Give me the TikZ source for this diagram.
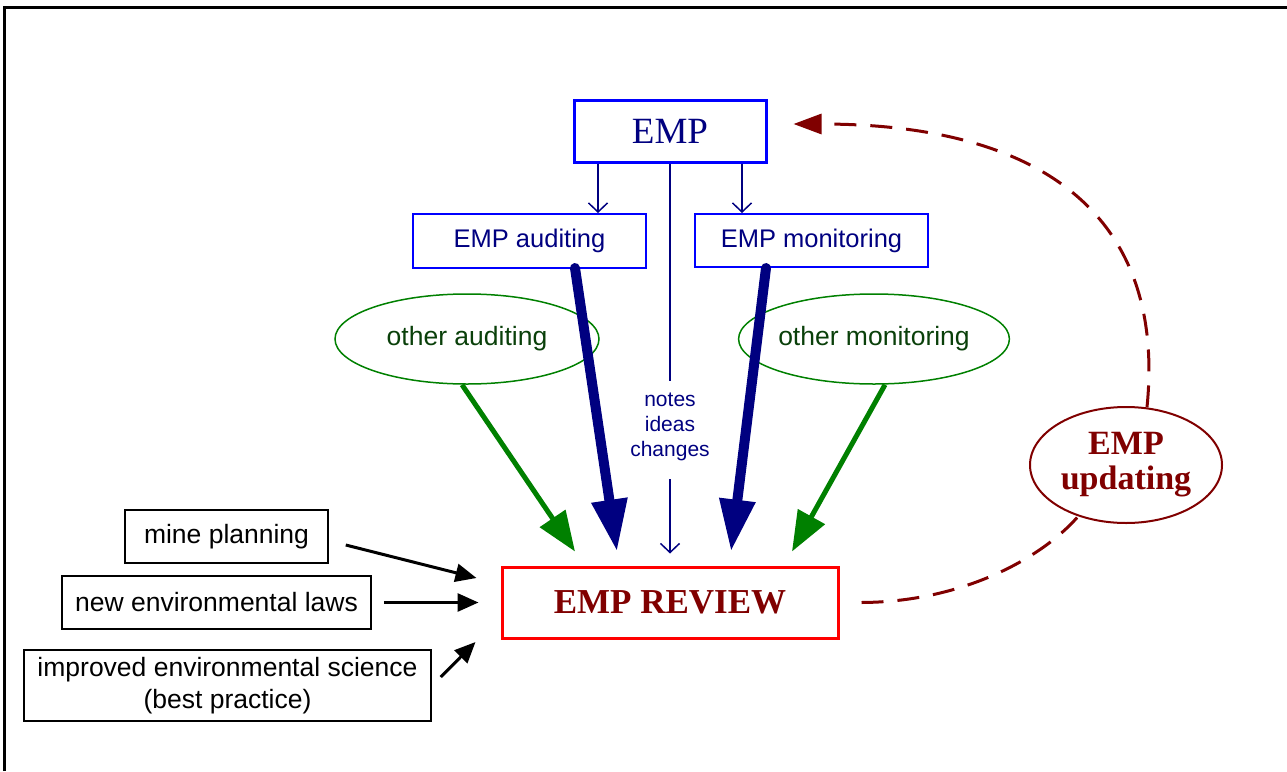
\documentclass[tikz,border=0pt]{standalone}
\usepackage{fontspec}
\setmainfont{Liberation Serif}
\setsansfont{Liberation Sans}
\usetikzlibrary{arrows.meta,shapes.geometric}
\definecolor{navy}{RGB}{0,0,128}
\definecolor{pureblue}{RGB}{0,0,255}
\definecolor{grn}{RGB}{0,128,0}
\definecolor{dkgrn}{RGB}{10,64,10}
\definecolor{dkred}{RGB}{128,0,0}
\definecolor{purered}{RGB}{255,0,0}
\tikzset{
  bluebox/.style={draw=pureblue, line width=2pt, inner sep=0pt, text=navy, font=\sffamily\fontsize{25.5}{30}\selectfont},
  greenell/.style={ellipse, draw=grn, line width=1.5pt, inner sep=0pt, minimum width=264pt, minimum height=90pt, text=dkgrn, font=\sffamily\fontsize{26.5}{30}\selectfont},
  blackbox/.style={draw=black, line width=1.5pt, inner sep=0pt, align=center, font=\sffamily\fontsize{26.5}{32}\selectfont},
  thinline/.style={draw=navy, line width=1.5pt},
  thinarrow/.style={thinline, -{Straight Barb[length=9pt,width=19pt]}},
  thickarrow/.style={draw=navy, line width=10pt, line cap=round, -{Triangle[length=52pt,width=34pt]}},
  greenarrow/.style={draw=grn, line width=5pt, -{Triangle[length=40pt,width=30pt]}},
  blackarrow/.style={draw=black, line width=3pt, -{Triangle[length=21pt,width=18pt]}},
  redcurve/.style={draw=dkred, line width=3pt, dash pattern=on 22pt off 14pt}
}
\begin{document}
\begin{tikzpicture}[x=1pt,y=-1pt]
\useasboundingbox (0,0) rectangle (1287,771);
% frame
\draw[line width=3pt] (4,771) -- (4,7) -- (1287,7);

\node[draw=pureblue, line width=3pt, inner sep=0pt, minimum width=192pt, minimum height=62pt, text=navy, font=\fontsize{37}{40}\selectfont] (emp) at (670,131) {EMP};
\node[bluebox, minimum width=233pt, minimum height=54pt] (aud) at (529.5,241) {EMP auditing};
\node[bluebox, minimum width=233pt, minimum height=53pt] (mon) at (811.5,240.5) {EMP monitoring};
\node[greenell] (oaud) at (467,339) {other auditing};
\node[greenell] (omon) at (874,339) {other monitoring};
\node[align=center, text=navy, inner xsep=2pt, inner ysep=12pt, font=\sffamily\fontsize{21}{25}\selectfont] (notes) at (670,427) {notes\\ideas\\changes};
\node[draw=purered, line width=3pt, inner sep=0pt, minimum width=336pt, minimum height=71pt, text=dkred, font=\bfseries\fontsize{35}{40}\selectfont] (review) at (670,602.5) {EMP REVIEW};
\node[blackbox, minimum width=203pt, minimum height=53pt] (mine) at (226.5,536.5) {mine planning};
\node[blackbox, minimum width=309pt, minimum height=53pt] (laws) at (216.5,602.5) {new environmental laws};
\node[blackbox, minimum width=407pt, minimum height=71pt] (imp) at (227.5,685.5) {improved environmental science\\(best practice)};
\node[ellipse, draw=dkred, line width=2pt, inner sep=0pt, minimum width=192pt, minimum height=116pt, align=center, text=dkred, font=\bfseries\fontsize{34}{36}\selectfont] (upd) at (1126,465) {EMP\\[-1pt]updating};

% thin connectors
\draw[thinarrow] ([xshift=-72pt]emp.south) -- ([xshift=-72pt]emp.south |- aud.north);
\draw[thinarrow] ([xshift=72pt]emp.south) -- ([xshift=72pt]emp.south |- mon.north);
\draw[thinline] (emp.south) -- (notes.north);
\draw[thinarrow, shorten <=6pt] (notes.south) -- ([yshift=12pt]review.north);

% thick navy arrows
\draw[thickarrow] ([xshift=45.5pt,yshift=1pt]aud.south) -- ([xshift=-53pt,yshift=14pt]review.north);
\draw[thickarrow] ([xshift=-45.5pt]mon.south) -- ([xshift=61pt,yshift=14pt]review.north);

% green arrows
\draw[greenarrow] ([xshift=-5pt]oaud.south) -- ([xshift=-95pt,yshift=14pt]review.north);
\draw[greenarrow] ([xshift=11pt]omon.south) -- ([xshift=122pt,yshift=14pt]review.north);

% black arrows
\draw[blackarrow] ([xshift=17pt,yshift=-8.5pt]mine.east) -- ([xshift=-24pt,yshift=24.5pt]review.west);
\draw[blackarrow] ([xshift=12pt]laws.east) -- ([xshift=-22pt]review.west);
\draw[blackarrow] ([xshift=9pt,yshift=8.5pt]imp.east) -- ([xshift=-25pt,yshift=-39.5pt]review.west);

% dashed red curves
\draw[redcurve] ([xshift=22pt]review.east) .. controls (960,602) and (1040,560) .. (upd.-133);
\draw[redcurve, -{Triangle[length=28pt,width=20pt]}] (upd.70) .. controls (1165,230) and (1060,124) .. ([xshift=26pt,yshift=7pt]emp.east);
\end{tikzpicture}
\end{document}
